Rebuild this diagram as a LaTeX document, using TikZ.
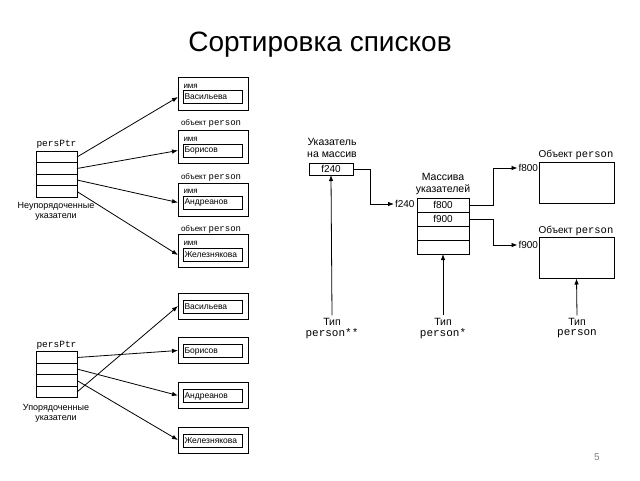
\documentclass[tikz,border=0pt]{standalone}
\usepackage{fontspec}
\setmainfont{Liberation Sans}
\setmonofont{Liberation Mono}
\usetikzlibrary{arrows.meta}
\begin{document}
\begin{tikzpicture}[x=1pt,y=-1pt,
  every node/.style={inner sep=0pt,outer sep=0pt},
  cell/.style={draw,line width=0.8pt,minimum width=41pt,minimum height=11.5pt},
  outerbox/.style={draw,line width=0.9pt,minimum width=70pt,minimum height=33pt},
  outerlow/.style={draw,line width=0.9pt,minimum width=70pt,minimum height=26pt},
  innerbox/.style={draw,line width=0.8pt,minimum width=59pt,minimum height=13pt,font=\fontsize{8.5}{9}\selectfont,text width=56pt,align=left},
  small/.style={font=\fontsize{8}{8}\selectfont},
  lab/.style={font=\fontsize{9}{10}\selectfont,align=center},
  mono/.style={font=\ttfamily\fontsize{9.5}{10}\selectfont},
  rlab/.style={font=\fontsize{10.5}{11.5}\selectfont,align=center},
  rcell/.style={draw,line width=0.8pt,minimum width=52pt,minimum height=14pt,font=\fontsize{10}{11}\selectfont},
  obj/.style={draw,line width=0.9pt,minimum width=75pt,minimum height=41pt},
  arr/.style={-{Latex[length=6pt,width=4.5pt]},line width=0.8pt},
  conn/.style={-{Latex[length=6pt,width=4.5pt]},line width=0.8pt}
]
\useasboundingbox (0,0) rectangle (640,480);

\node (title) at (320,45) {\fontsize{28}{31}\selectfont Сортировка списков};

% ---------- top left: unsorted ----------
\node[mono] (pp1) at (56.5,144) {persPtr};
\node[cell] (a1) at (56.5,157) {};
\node[cell] (a2) at (56.5,168.5) {};
\node[cell] (a3) at (56.5,180) {};
\node[cell] (a4) at (56.5,191.5) {};
\node[lab] (ul) at (56,211) {Неупорядоченные\\указатели};

\node[outerbox] (o1) at (213,94) {};
\node[innerbox] (i1) at (212.5,97) {Васильева};
\node[small,anchor=west] (n1) at (183.5,86) {имя};

\node[anchor=west] (t2) at (181,123) {\fontsize{8}{8}\selectfont объект \ttfamily\fontsize{9}{9}\selectfont person};
\node[outerbox] (o2) at (213,147) {};
\node[innerbox] (i2) at (212.5,150.5) {Борисов};
\node[small,anchor=west] (n2) at (183.5,139) {имя};

\node[anchor=west] (t3) at (181,177) {\fontsize{8}{8}\selectfont объект \ttfamily\fontsize{9}{9}\selectfont person};
\node[outerbox] (o3) at (213,199.5) {};
\node[innerbox] (i3) at (212.5,202.5) {Андреанов};
\node[small,anchor=west] (n3) at (183.5,191) {имя};

\node[anchor=west] (t4) at (181,229) {\fontsize{8}{8}\selectfont объект \ttfamily\fontsize{9}{9}\selectfont person};
\node[outerbox] (o4) at (213,250.5) {};
\node[innerbox] (i4) at (212.5,255) {Железнякова};
\node[small,anchor=west] (n4) at (183.5,243) {имя};

\draw[arr] (a1.east) -- (o1.west |- i1.west);
\draw[arr] (a2.east) -- (o2.west |- i2.west);
\draw[arr] (a3.east) -- (o3.west |- i3.west);
\draw[arr] (a4.east) -- (o4.west |- i4.west);

% ---------- bottom left: sorted ----------
\node[mono] (pp2) at (56.5,345) {persPtr};
\node[cell] (b1) at (56.5,357.5) {};
\node[cell] (b2) at (56.5,369) {};
\node[cell] (b3) at (56.5,380.5) {};
\node[cell] (b4) at (56.5,392) {};
\node[lab] (sl) at (56,413) {Упорядоченные\\указатели};

\node[outerlow] (p1) at (213,306) {};
\node[innerbox] (j1) at (212.5,306.5) {Васильева};
\node[outerlow] (p2) at (213,350.5) {};
\node[innerbox] (j2) at (212.5,351) {Борисов};
\node[outerlow] (p3) at (213,395.5) {};
\node[innerbox] (j3) at (212.5,396) {Андреанов};
\node[outerlow] (p4) at (213,440) {};
\node[innerbox] (j4) at (212.5,440.5) {Железнякова};

\draw[arr] (b1.east) -- (p2.west);
\draw[arr] (b2.east) -- (p3.west);
\draw[arr] (b3.east) -- (p4.west);
\draw[arr] (b4.east) -- (p1.west);

% ---------- right part ----------
\node[rlab] (ua) at (332,148) {Указатель\\на массив};
\node[draw,line width=0.8pt,minimum width=44pt,minimum height=12pt,font=\fontsize{10}{11}\selectfont] (f240) at (331,169) {f240};

\node[rlab] (ma) at (443,184) {Массива\\указателей};
\node[rcell] (m1) at (443,205) {f800};
\node[rcell] (m2) at (443,219) {f900};
\node[rcell] (m3) at (443,233) {};
\node[rcell] (m4) at (443,247) {};
\node[font=\fontsize{10}{11}\selectfont,anchor=east] (l240) at (414.5,204) {f240};

\coordinate (k1) at (370,169);
\draw[conn] (f240.east) -- (k1) |- ([xshift=-1pt]l240.west);

\node[obj] (ob1) at (576.5,182.5) {};
\node[obj] (ob2) at (576.5,258) {};
\node[anchor=south] (ot1) at (576,159.5) {\fontsize{10}{11}\selectfont Объект \ttfamily\fontsize{10.5}{11}\selectfont person};
\node[anchor=south] (ot2) at (576,235.5) {\fontsize{10}{11}\selectfont Объект \ttfamily\fontsize{10.5}{11}\selectfont person};
\node[font=\fontsize{10}{11}\selectfont,anchor=east] (l800) at (538,168) {f800};
\node[font=\fontsize{10}{11}\selectfont,anchor=east] (l900) at (538,245) {f900};

\coordinate (k2) at (493,205);
\coordinate (k3) at (493,219);
\draw[conn] (m1.east) -- (k2) |- ([xshift=-1pt]l800.west);
\draw[conn] (m2.east) -- (k3) |- ([xshift=-1pt]l900.west);

\node[rlab] (ty1) at (332,322) {Тип};
\node[font=\ttfamily\fontsize{11}{12}\selectfont] (tp1) at (332,334) {person**};
\node[rlab] (ty2) at (443,322) {Тип};
\node[font=\ttfamily\fontsize{11}{12}\selectfont] (tp2) at (443,334) {person*};
\node[rlab] (ty3) at (577,322) {Тип};
\node[font=\ttfamily\fontsize{11}{12}\selectfont] (tp3) at (577,334) {person};

\draw[conn] (ty1.north) ++(0,-3) coordinate (s1) (s1) -- (f240.south);
\draw[conn] (ty2.north) ++(0,-3) coordinate (s2) (s2) -- (m4.south);
\draw[conn] (ty3.north) ++(0,-3) coordinate (s3) (s3) -- (ob2.south);

\node[text=gray,font=\fontsize{10}{12}\selectfont] (pg) at (597,457) {5};
\end{tikzpicture}
\end{document}
